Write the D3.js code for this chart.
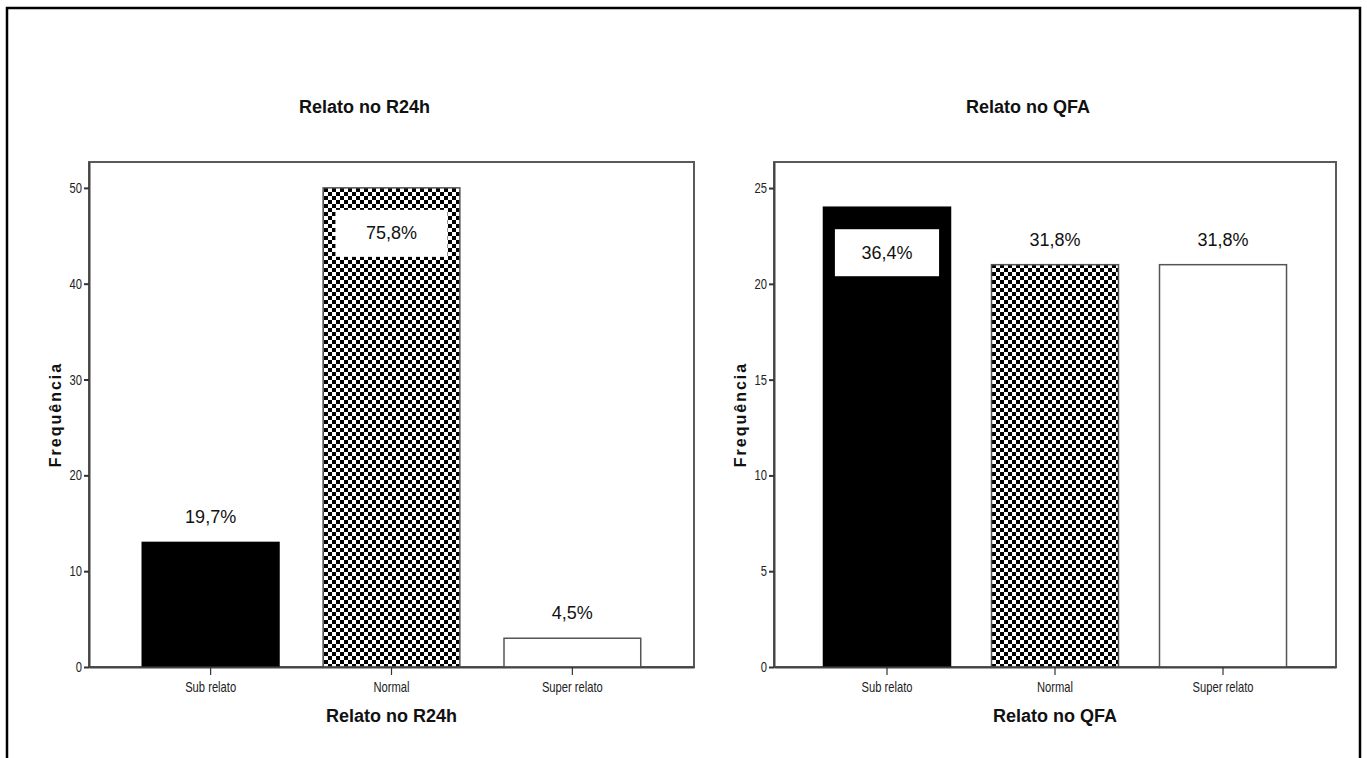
<!DOCTYPE html>
<html>
<head>
<meta charset="utf-8">
<script src="https://cdn.jsdelivr.net/npm/d3@7"></script>
<style>
  html, body { margin: 0; padding: 0; background: #fff; }
  svg { display: block; }
</style>
</head>
<body>
<svg id="chart" width="1367" height="758"></svg>
<script>
// Report classification categories, shared by both panels
const categories = ["Sub relato", "Normal", "Super relato"];

// 24-hour recall (R24h): counts and percentages
const r24hCounts = [13, 50, 3];
const r24hPercents = ["19,7%", "75,8%", "4,5%"];
const r24hTicks = [0, 10, 20, 30, 40, 50];

// Food frequency questionnaire (QFA): counts and percentages
const qfaCounts = [24, 21, 21];
const qfaPercents = ["36,4%", "31,8%", "31,8%"];
const qfaTicks = [0, 5, 10, 15, 20, 25];

// Fill style per category
const fills = ["black", "checker", "white"];

const svg = d3.select("#chart");
const defs = svg.append("defs");

// Checkerboard pattern for the "Normal" bars
const cell = 4;
const pat = defs.append("pattern")
  .attr("id", "checker")
  .attr("patternUnits", "userSpaceOnUse")
  .attr("width", cell * 2).attr("height", cell * 2);
pat.append("rect").attr("width", cell * 2).attr("height", cell * 2).attr("fill", "#fff");
pat.append("rect").attr("x", 0).attr("y", 0).attr("width", cell).attr("height", cell).attr("fill", "#000");
pat.append("rect").attr("x", cell).attr("y", cell).attr("width", cell).attr("height", cell).attr("fill", "#000");

// Outer page border
svg.append("rect")
  .attr("x", 7).attr("y", 8).attr("width", 1353).attr("height", 780)
  .attr("fill", "none").attr("stroke", "#000").attr("stroke-width", 2.5);

const sans = "'Liberation Sans', Arial, sans-serif";
const squeeze = 0.8; // horizontal condensing for axis tick labels

function panel(opts) {
  const { x0, x1, y0, y1, yMax, counts, percents, ticks, title, insideIndex } = opts;
  const g = svg.append("g");

  const x = d3.scaleBand()
    .domain(categories)
    .range([x0, x1])
    .paddingInner(0.244)
    .paddingOuter(0.2945);

  const y = d3.scaleLinear().domain([0, yMax]).range([y1, y0]);

  // Plot frame
  g.append("rect")
    .attr("x", x0).attr("y", y0)
    .attr("width", x1 - x0).attr("height", y1 - y0)
    .attr("fill", "#fff").attr("stroke", "#5a5a5a").attr("stroke-width", 2);

  // Bars
  g.selectAll("rect.bar")
    .data(categories)
    .join("rect")
    .attr("class", "bar")
    .attr("x", d => x(d))
    .attr("y", (d, i) => y(counts[i]))
    .attr("width", x.bandwidth())
    .attr("height", (d, i) => y(0) - y(counts[i]))
    .attr("fill", (d, i) => fills[i] === "checker" ? "url(#checker)" : fills[i] === "black" ? "#000" : "#fff")
    .attr("stroke", (d, i) => fills[i] === "black" ? "#000" : "#555")
    .attr("stroke-width", 1.5);

  // Y axis
  const yAxis = d3.axisLeft(y).tickValues(ticks).tickSize(5).tickSizeOuter(0).tickPadding(2);
  const ya = g.append("g").attr("transform", `translate(${x0},0)`).call(yAxis);
  ya.select(".domain").attr("stroke", "#444").attr("stroke-width", 2);
  ya.selectAll(".tick line").attr("stroke", "#333").attr("stroke-width", 2);
  ya.selectAll(".tick text")
    .attr("font-family", sans).attr("font-size", 14).attr("fill", "#222")
    .attr("x", -7 / squeeze)
    .attr("transform", `scale(${squeeze},1)`);

  // X axis
  const xAxis = d3.axisBottom(x).tickSize(8).tickPadding(7).tickSizeOuter(0);
  const xa = g.append("g").attr("transform", `translate(0,${y1})`).call(xAxis);
  xa.select(".domain").attr("stroke", "#444").attr("stroke-width", 2);
  xa.selectAll(".tick line").attr("stroke", "#333").attr("stroke-width", 1.2);
  xa.selectAll(".tick text")
    .attr("font-family", sans).attr("font-size", 14).attr("fill", "#222")
    .attr("transform", `scale(${squeeze},1)`);

  // Value labels: above the bar, or inside on a white box for the tallest bar
  categories.forEach((c, i) => {
    const cx = x(c) + x.bandwidth() / 2;
    if (i === insideIndex) {
      const top = y(counts[i]);
      const bw = x.bandwidth() * 0.82;
      g.append("rect")
        .attr("x", cx - bw / 2).attr("y", top + 22)
        .attr("width", bw).attr("height", 47)
        .attr("fill", "#fff");
      g.append("text")
        .attr("x", cx).attr("y", top + 45.5)
        .attr("text-anchor", "middle").attr("dominant-baseline", "central")
        .attr("font-family", sans).attr("font-size", 18).attr("fill", "#111")
        .text(percents[i]);
    } else {
      g.append("text")
        .attr("x", cx).attr("y", y(counts[i]) - 25)
        .attr("text-anchor", "middle").attr("dominant-baseline", "central")
        .attr("font-family", sans).attr("font-size", 18).attr("fill", "#111")
        .text(percents[i]);
    }
  });

  // Chart title
  g.append("text")
    .attr("x", (x0 + x1) / 2 - 27).attr("y", 107)
    .attr("text-anchor", "middle").attr("dominant-baseline", "central")
    .attr("font-family", sans).attr("font-size", 18).attr("font-weight", "bold")
    .attr("fill", "#111")
    .text(title);

  // X axis title
  g.append("text")
    .attr("x", (x0 + x1) / 2).attr("y", 716)
    .attr("text-anchor", "middle").attr("dominant-baseline", "central")
    .attr("font-family", sans).attr("font-size", 18).attr("font-weight", "bold")
    .attr("fill", "#111")
    .text(title);

  // Y axis title
  g.append("text")
    .attr("transform", `translate(${x0 - 34},${(y0 + y1) / 2}) rotate(-90)`)
    .attr("text-anchor", "middle").attr("dominant-baseline", "central")
    .attr("font-family", sans).attr("font-size", 16).attr("font-weight", "bold")
    .attr("letter-spacing", 2)
    .attr("fill", "#111")
    .text("Frequência");
}

panel({
  x0: 89, x1: 694, y0: 162, y1: 667, yMax: 52.7,
  counts: r24hCounts, percents: r24hPercents, ticks: r24hTicks,
  title: "Relato no R24h", insideIndex: 1
});

panel({
  x0: 774, x1: 1336, y0: 162, y1: 667, yMax: 26.36,
  counts: qfaCounts, percents: qfaPercents, ticks: qfaTicks,
  title: "Relato no QFA", insideIndex: 0
});
</script>
</body>
</html>
